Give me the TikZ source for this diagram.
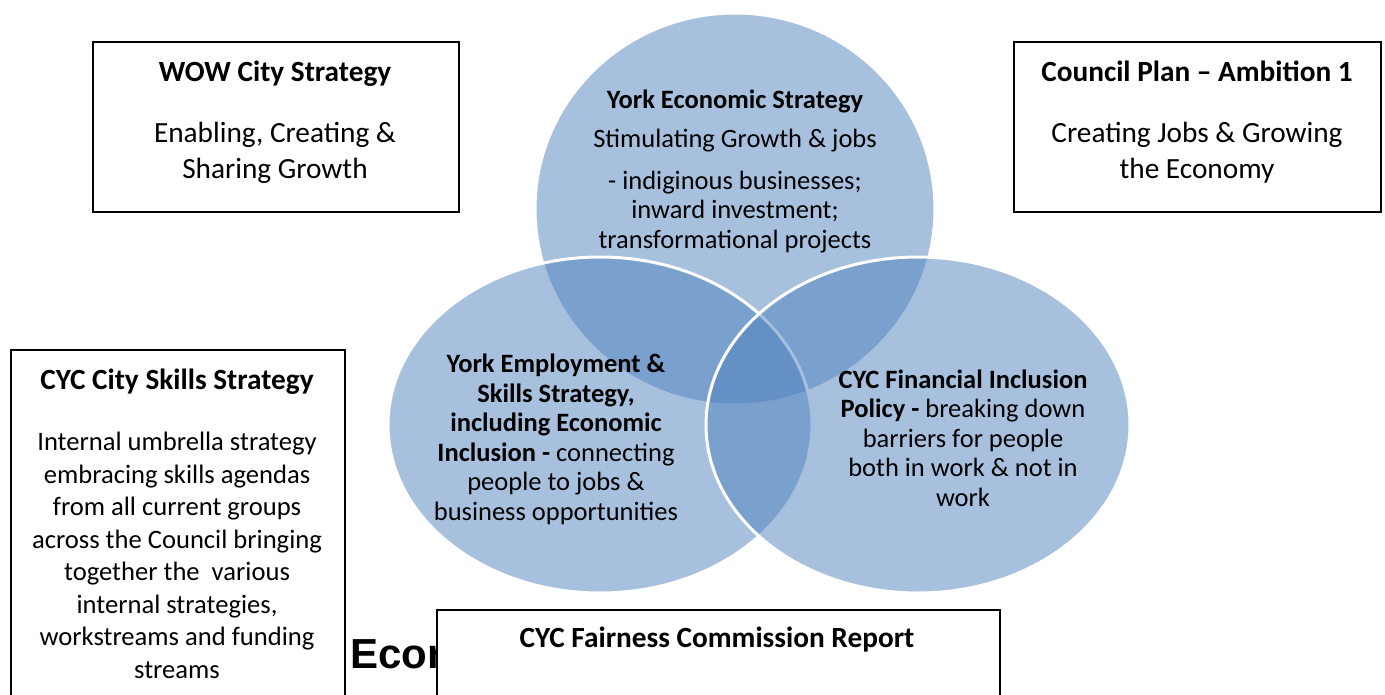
\documentclass[tikz,border=0pt]{standalone}
\usepackage{fontspec}
\setmainfont{Carlito}
\newfontfamily\headfont{Liberation Sans}
\usetikzlibrary{shapes.geometric}
\definecolor{vennblue}{RGB}{79,129,189}
\tikzset{
  stratbox/.style={draw, line width=1.5pt, fill=white, anchor=north west, inner sep=0pt},
  venn/.style={ellipse, fill=vennblue, fill opacity=0.5, draw=white, line width=3pt, inner sep=0pt},
  boxtitle/.style={font=\bfseries\fontsize{29.3}{35.8}\selectfont, anchor=base},
  boxtext/.style={font=\fontsize{29.3}{35.8}\selectfont, align=center, anchor=base},
  venntext/.style={font=\fontsize{26.5}{29.5}\selectfont, align=center, anchor=base},
}
\begin{document}
\begin{tikzpicture}[x=1pt, y=-1pt]
    \useasboundingbox (0,0) rectangle (1385,694);

    % The three overlapping strategies
    \node[venn, minimum width=400pt, minimum height=392pt] (econ) at (735,209) {};
    \node[venn, minimum width=424pt, minimum height=336pt] (employ) at (600,425) {};
    \node[venn, minimum width=424pt, minimum height=336pt] (finance) at (918,425) {};

    % Text in the circles (base = last line)
    \node[venntext, font=\bfseries\fontsize{26.5}{29.5}\selectfont] (econtitle) at (735,108) {York Economic Strategy};
    \node[venntext] (econbody) at (735,248) {Stimulating Growth \& jobs\\[12.5pt]
        - indiginous businesses;\\ inward investment;\\ transformational projects};
    \node[venntext] (employbody) at (556,520) {\textbf{York Employment \&}\\ \textbf{Skills Strategy,}\\
        \textbf{including Economic}\\ \textbf{Inclusion -} connecting\\ people to jobs \&\\ business opportunities};
    \node[venntext] (financebody) at (963,506) {\textbf{CYC Financial Inclusion}\\ \textbf{Policy -} breaking down\\
        barriers for people\\ both in work \& not in\\ work};

    % Heading partly hidden behind the report box
    \node[font=\headfont\bfseries\fontsize{42}{48}\selectfont, anchor=base west, inner sep=0pt] (heading) at (350,668) {Econ};

    % Surrounding strategy boxes
    \node[stratbox, minimum width=366pt, minimum height=170pt] (wow) at (92,41) {};
    \node[boxtitle] (wowtitle) at (275,81) {WOW City Strategy};
    \node[boxtext] (wowbody) at (275,178) {Enabling, Creating \&\\ Sharing Growth};

    \node[stratbox, minimum width=367pt, minimum height=170pt] (plan) at (1013,41) {};
    \node[boxtitle] (plantitle) at (1197,81) {Council Plan -- Ambition 1};
    \node[boxtext] (planbody) at (1197,178) {Creating Jobs \& Growing\\ the Economy};

    \node[stratbox, minimum width=334pt, minimum height=360pt] (skills) at (10,349) {};
    \node[boxtitle] (skillstitle) at (177,389) {CYC City Skills Strategy};
    \node[boxtext, font=\fontsize{26.6}{32.5}\selectfont] (skillsbody) at (177,678) {Internal umbrella strategy\\
        embracing skills agendas\\ from all current groups\\ across the Council bringing\\
        together the \ various\\ internal strategies,\\ workstreams and funding\\ streams};

    \node[stratbox, minimum width=563pt, minimum height=120pt] (fair) at (436,609) {};
    \node[boxtitle] (fairtitle) at (717,647) {CYC Fairness Commission Report};
\end{tikzpicture}
\end{document}
